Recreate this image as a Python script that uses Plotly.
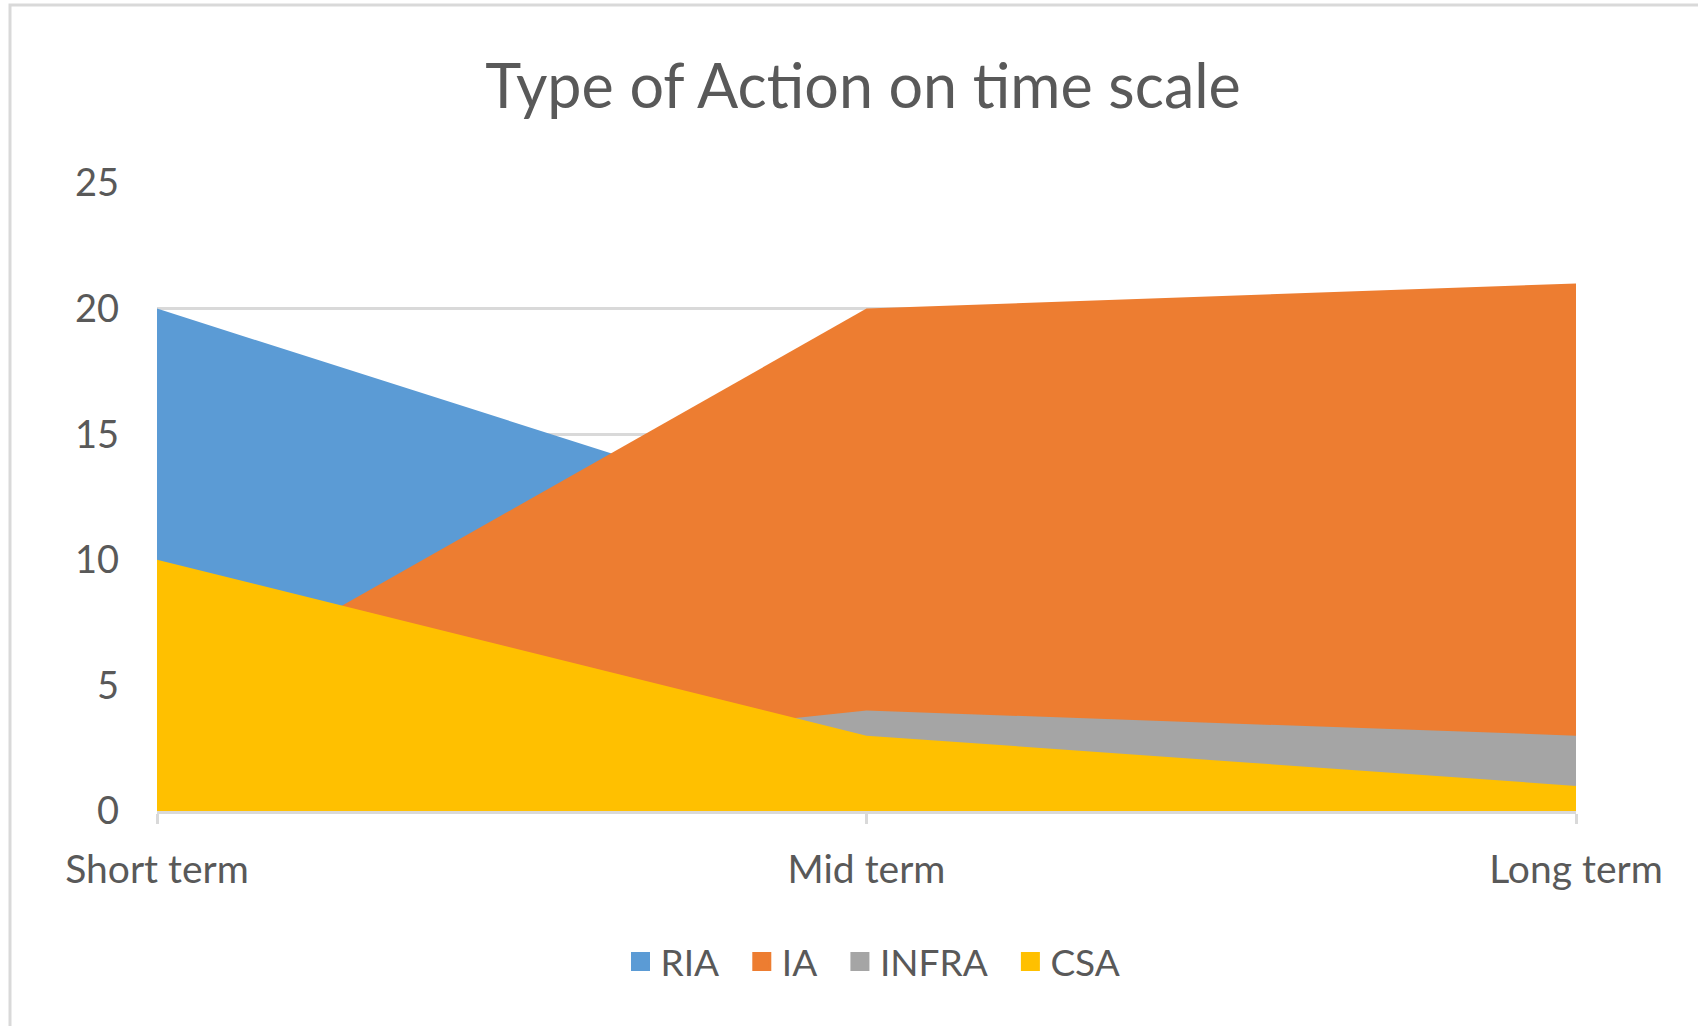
import plotly.graph_objects as go

# Time horizons and number of actions per type
categories = ["Short term", "Mid term", "Long term"]
ria = [20, 11, 9]
ia = [4, 20, 21]
infra = [1, 4, 3]
csa = [10, 3, 1]

series_names = ["RIA", "IA", "INFRA", "CSA"]
series_values = [ria, ia, infra, csa]
series_colors = ["#5B9BD5", "#ED7D31", "#A5A5A5", "#FFC000"]

y_ticks = [0, 5, 10, 15, 20, 25]

TEXT = "#595959"
GRID = "#D9D9D9"
FONT = "Lato, 'Open Sans', sans-serif"

x_pos = list(range(len(categories)))

fig = go.Figure()

# Overlapping (non-stacked) areas, later series drawn on top
for name, vals, col in zip(series_names, series_values, series_colors):
    fig.add_trace(go.Scatter(
        x=x_pos, y=vals, name=name, mode="lines",
        line=dict(width=0, color=col),
        fill="tozeroy", fillcolor=col,
        showlegend=False, hoverinfo="x+y+name",
    ))

# Square legend keys (non-breaking spaces widen the gap between entries)
for i, (name, col) in enumerate(zip(series_names, series_colors)):
    pad = "\u00a0\u00a0" if i < len(series_names) - 1 else ""
    fig.add_trace(go.Scatter(
        x=[None], y=[None], name=name + pad, mode="markers",
        marker=dict(symbol="square", size=16, color=col,
                    line=dict(width=3, color=col)),
        showlegend=True,
    ))

fig.update_layout(
    width=1698, height=1026,
    margin=dict(l=157, r=122, t=183, b=215),
    paper_bgcolor="white", plot_bgcolor="white",
    font=dict(family=FONT, color=TEXT, size=38),
    title=dict(
        text="Type of Action on time scale",
        x=863 / 1698, xanchor="center",
        y=1 - 87 / 1026, yanchor="middle",
        font=dict(family=FONT, size=61, color=TEXT),
    ),
    xaxis=dict(
        range=[0, len(categories) - 1],
        tickvals=x_pos, ticktext=categories,
        showgrid=False, zeroline=False,
        showline=True, linecolor=GRID, linewidth=3,
        ticks="outside", ticklen=10, tickwidth=3, tickcolor=GRID,
        ticklabelstandoff=12,
        tickfont=dict(size=39, color=TEXT),
    ),
    yaxis=dict(
        range=[0, 25], tickvals=y_ticks,
        showgrid=True, gridcolor=GRID, gridwidth=3,
        zeroline=False, showline=False, ticks="",
        ticklabelstandoff=37,
        tickfont=dict(size=38, color=TEXT),
    ),
    legend=dict(
        orientation="h", x=873 / 1698, xref="container", xanchor="center",
        y=1 - 962 / 1026, yref="container", yanchor="middle",
        font=dict(size=37, color=TEXT),
        itemsizing="trace", traceorder="normal", itemwidth=30,
    ),
    shapes=[dict(
        type="rect", xref="paper", yref="paper",
        x0=(10 - 157) / 1419, x1=1.2,
        y0=-1.0, y1=(811 - 5) / 628,
        line=dict(color=GRID, width=3), fillcolor="rgba(0,0,0,0)",
        layer="below",
    )],
)

fig.write_html("out.html")
